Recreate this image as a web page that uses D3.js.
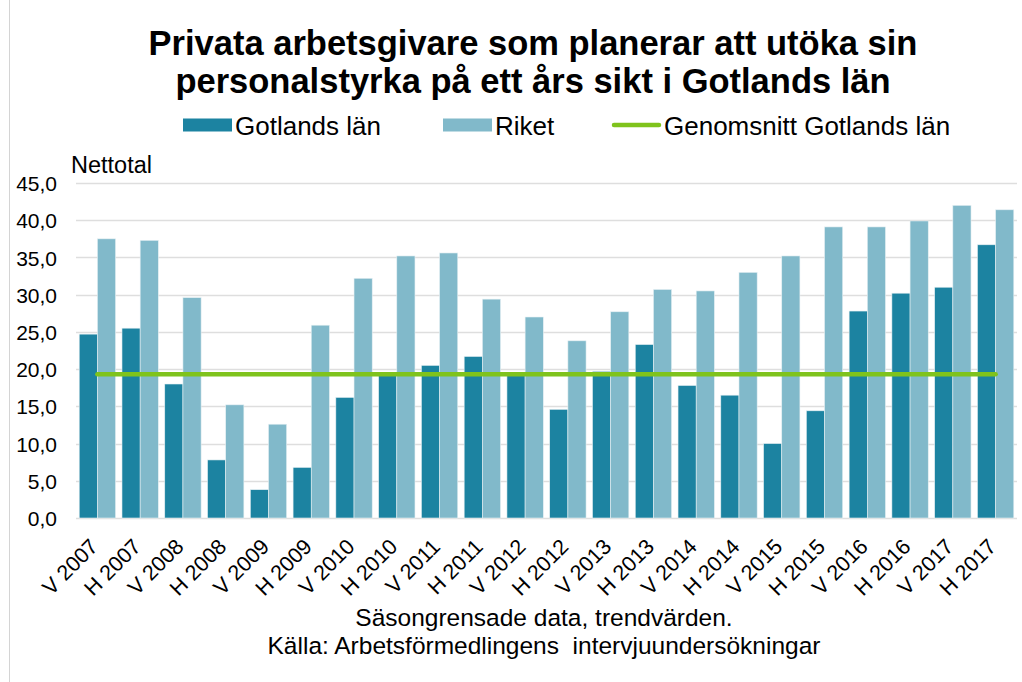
<!DOCTYPE html>
<html>
<head>
<meta charset="utf-8">
<script src="https://cdn.jsdelivr.net/npm/d3@7"></script>
<style>
    html, body { margin: 0; padding: 0; background: #fff; }
    svg text { font-family: "Liberation Sans", Arial, sans-serif; fill: #000; }
</style>
</head>
<body>
<div class="graph"></div>
<script>
"use strict";

var categories = ["V 2007", "H 2007", "V 2008", "H 2008", "V 2009", "H 2009", "V 2010", "H 2010",
    "V 2011", "H 2011", "V 2012", "H 2012", "V 2013", "H 2013", "V 2014", "H 2014",
    "V 2015", "H 2015", "V 2016", "H 2016", "V 2017", "H 2017"];
var gotland = [24.7, 25.5, 18.0, 7.8, 3.8, 6.8, 16.2, 19.2, 20.5, 21.7, 19.2, 14.6,
    19.7, 23.3, 17.8, 16.5, 10.0, 14.4, 27.8, 30.2, 31.0, 36.7];
var riket = [37.5, 37.3, 29.6, 15.2, 12.6, 25.9, 32.2, 35.2, 35.6, 29.4, 27.0, 23.8,
    27.7, 30.7, 30.5, 33.0, 35.2, 39.1, 39.1, 39.9, 42.0, 41.4];
var average = 19.3;
var yTicks = [0, 5, 10, 15, 20, 25, 30, 35, 40, 45];
var seriesNames = ["Gotlands län", "Riket", "Genomsnitt Gotlands län"];
var titleLines = ["Privata arbetsgivare som planerar att utöka sin",
    "personalstyrka på ett års sikt i Gotlands län"];
var footerLines = ["Säsongrensade data, trendvärden.",
    "Källa: Arbetsförmedlingens  intervjuundersökningar"];

var DARK = "#1c83a1";
var LIGHT = "#81b9ca";
var GREEN = "#7fc31c";

var width = 1022;
var height = 682;
var plot = { left: 76, right: 1017, top: 183, bottom: 518 };

var svg = d3.select(".graph").append("svg:svg").attr("width", width).attr("height", height);

// thin frame line at the left edge of the picture
svg.append("line").attr("x1", 9.5).attr("x2", 9.5).attr("y1", 0).attr("y2", height)
    .style("stroke", "#d4d4d4").style("stroke-width", 1);

var xScale = d3.scaleBand().domain(categories).range([plot.left, plot.right])
    .paddingInner(0.15).paddingOuter(0.075);
var subScale = d3.scaleBand().domain([0, 1]).range([0, xScale.bandwidth()]);
var yScale = d3.scaleLinear().domain([0, 45]).range([plot.bottom, plot.top]);

var locale = d3.formatLocale({ decimal: ",", thousands: " ", grouping: [3], currency: ["", " kr"] });
var fmt = locale.format(".1f");

// gridlines
svg.append("g").selectAll("line").data(yTicks).enter().append("line")
    .attr("x1", plot.left).attr("x2", plot.right)
    .attr("y1", function (d) { return Math.round(yScale(d)) + 0.5; })
    .attr("y2", function (d) { return Math.round(yScale(d)) + 0.5; })
    .style("stroke", "#dedede").style("stroke-width", 1.3);

// y axis labels
var yAxis = d3.axisLeft(yScale).tickValues(yTicks).tickFormat(fmt).tickSize(0).tickPadding(19);
var yAxisG = svg.append("g").attr("transform", "translate(" + plot.left + ",0)").call(yAxis);
yAxisG.select(".domain").remove();
yAxisG.selectAll("text").style("font-size", "21px").attr("dy", "0.36em")
    .style("font-family", "\"Liberation Sans\", Arial, sans-serif").attr("fill", "#000");

svg.append("text").attr("x", 71).attr("y", 173).style("font-size", "23.5px").text("Nettotal");

// bars
var groups = svg.append("g").selectAll("g").data(categories).enter().append("g")
    .attr("transform", function (d) { return "translate(" + xScale(d) + ",0)"; });

groups.append("rect")
    .attr("x", subScale(0)).attr("width", subScale.bandwidth())
    .attr("y", function (_, i) { return yScale(gotland[i]); })
    .attr("height", function (_, i) { return yScale(0) - yScale(gotland[i]); })
    .attr("fill", DARK).attr("stroke", "#e6f0f3").attr("stroke-width", 0.6);

groups.append("rect")
    .attr("x", subScale(1)).attr("width", subScale.bandwidth())
    .attr("y", function (_, i) { return yScale(riket[i]); })
    .attr("height", function (_, i) { return yScale(0) - yScale(riket[i]); })
    .attr("fill", LIGHT).attr("stroke", "#e6f0f3").attr("stroke-width", 0.6);

// average line
var line = d3.line()
    .x(function (d) { return xScale(d) + xScale.bandwidth() / 2; })
    .y(function () { return yScale(average); });
svg.append("path").datum(categories).attr("d", line)
    .attr("fill", "none").attr("stroke", GREEN).attr("stroke-width", 4.5)
    .attr("stroke-linecap", "round");

// x axis labels
var xAxis = d3.axisBottom(xScale).tickSize(0).tickPadding(0);
var xAxisG = svg.append("g").attr("transform", "translate(0," + plot.bottom + ")").call(xAxis);
xAxisG.select(".domain").remove();
xAxisG.selectAll("text")
    .style("font-size", "21.5px").style("font-family", "\"Liberation Sans\", Arial, sans-serif")
    .attr("fill", "#000")
    .attr("text-anchor", "end")
    .attr("y", 0).attr("dy", "0.72em")
    .attr("transform", "translate(-9,19) rotate(-45)");

// title
svg.append("g").selectAll("text").data(titleLines).enter().append("text")
    .attr("x", 533).attr("y", function (_, i) { return 55 + i * 38; })
    .attr("text-anchor", "middle").style("font-size", "34.5px").style("font-weight", "bold")
    .text(function (d) { return d; });

// legend
var legendX = [183, 443, 612];
var legend = svg.append("g").selectAll("g").data(seriesNames).enter().append("g")
    .attr("transform", function (_, i) { return "translate(" + legendX[i] + ",125)"; });
legend.filter(function (_, i) { return i < 2; }).append("rect")
    .attr("x", 0).attr("y", -6.5).attr("width", 49).attr("height", 13)
    .attr("fill", function (_, i) { return i === 0 ? DARK : LIGHT; });
legend.filter(function (_, i) { return i === 2; }).append("line")
    .attr("x1", 2).attr("x2", 47).attr("y1", 0).attr("y2", 0)
    .attr("stroke", GREEN).attr("stroke-width", 4.5).attr("stroke-linecap", "round");
legend.append("text").attr("x", 52).attr("y", 9.5).style("font-size", "26px")
    .text(function (d) { return d; });

// footer
svg.append("g").selectAll("text").data(footerLines).enter().append("text")
    .attr("x", 544).attr("y", function (_, i) { return 626 + i * 28; })
    .attr("text-anchor", "middle").style("font-size", "24.5px")
    .attr("xml:space", "preserve")
    .text(function (d) { return d; });
</script>
</body>
</html>
